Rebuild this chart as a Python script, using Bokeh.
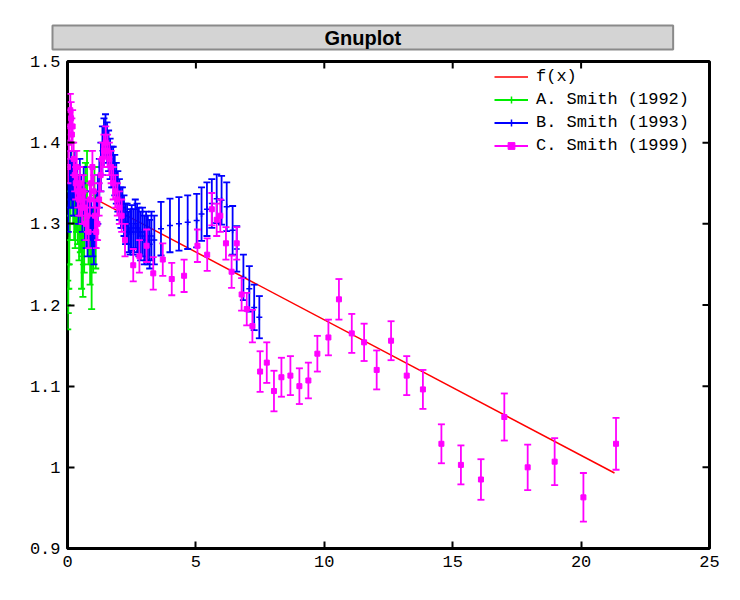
import math
from bokeh.plotting import figure
from bokeh.models import (FixedTicker, LinearAxis, Legend, LegendItem, Range1d)
from bokeh.embed import file_html
from bokeh.resources import INLINE

# ---------------- data ----------------
fx_x = [1.0, 21.3]
fx_y = [1.332, 0.993]

a_x = [0.01, 0.03, 0.05, 0.07, 0.09, 0.12, 0.15, 0.18, 0.22, 0.26, 0.30, 0.35, 0.40,
       0.45, 0.50, 0.55, 0.60, 0.65, 0.70, 0.76, 0.82, 0.88, 0.94, 1.00, 1.05, 1.10]
a_y = [1.20, 1.22, 1.25, 1.28, 1.31, 1.34, 1.36, 1.35, 1.33, 1.31, 1.30, 1.32, 1.31,
       1.29, 1.30, 1.26, 1.25, 1.28, 1.33, 1.35, 1.29, 1.27, 1.25, 1.28, 1.33, 1.29]
a_err = [0.03, 0.03, 0.03, 0.03, 0.03, 0.03, 0.03, 0.03, 0.03, 0.03, 0.03, 0.03, 0.035,
         0.035, 0.035, 0.04, 0.04, 0.04, 0.045, 0.04, 0.04, 0.045, 0.055, 0.04, 0.04, 0.045]

b_x = [0.03, 0.08, 0.13, 0.18, 0.23, 0.28, 0.33, 0.38, 0.43, 0.48, 0.53, 0.58, 0.63,
       0.68, 0.73, 0.78, 0.83, 0.88, 0.93, 0.98, 1.03, 1.08, 1.13, 1.18, 1.24, 1.30,
       1.36, 1.42, 1.48, 1.54, 1.60, 1.66, 1.72, 1.78, 1.84, 1.90, 1.96, 2.02, 2.08,
       2.14, 2.20, 2.26, 2.32, 2.38, 2.44, 2.50, 2.57, 2.64, 2.71, 2.78, 2.85, 2.92,
       2.99, 3.06, 3.13, 3.20, 3.27, 3.38, 3.64, 3.99, 4.34, 4.68, 5.03, 5.22, 5.43,
       5.62, 5.81, 6.00, 6.20, 6.43, 6.59, 6.85, 7.08, 7.27, 7.47]
b_y = [1.32, 1.35, 1.36, 1.35, 1.34, 1.36, 1.35, 1.34, 1.33, 1.35, 1.33, 1.32, 1.34,
       1.31, 1.30, 1.29, 1.30, 1.31, 1.30, 1.29, 1.28, 1.30, 1.31, 1.33, 1.35, 1.37,
       1.39, 1.40, 1.41, 1.40, 1.39, 1.38, 1.37, 1.37, 1.36, 1.35, 1.34, 1.33, 1.32,
       1.32, 1.31, 1.30, 1.30, 1.29, 1.29, 1.295, 1.29, 1.30, 1.295, 1.29, 1.285, 1.29,
       1.28, 1.285, 1.28, 1.275, 1.285, 1.28, 1.294, 1.298, 1.300, 1.302, 1.304, 1.312, 1.318,
       1.325, 1.331, 1.329, 1.321, 1.292, 1.269, 1.234, 1.220, 1.197, 1.185]
b_err = [0.03] * 28 + [0.025] * 16 + [0.028] * 3 + [0.03] * 11 + [0.033] * 7 + \
        [0.03] * 5 + [0.028] * 4 + [0.026]

c_x = [0.02, 0.05, 0.08, 0.11, 0.14, 0.17, 0.20, 0.24, 0.28, 0.32, 0.36, 0.40, 0.44,
       0.48, 0.52, 0.57, 0.62, 0.67, 0.72, 0.77, 0.82, 0.87, 0.92, 0.97, 1.02, 1.07,
       1.12, 1.17, 1.23, 1.29, 1.35, 1.42, 1.49, 1.56, 1.63, 1.70, 1.78, 1.86, 1.94,
       2.02, 2.11, 2.24, 2.56, 2.80, 3.08, 3.34, 3.71, 4.06, 4.54, 5.06, 5.44, 5.62,
       5.81, 5.95, 6.17, 6.39, 6.59, 6.78, 6.98, 7.20, 7.50, 7.76, 8.04, 8.33, 8.68,
       9.03, 9.38, 9.73, 10.16, 10.57, 11.07, 11.55, 12.04, 12.60, 13.21, 13.84, 14.56,
       15.32, 16.10, 17.01, 17.92, 18.97, 20.09, 21.36]
c_y = [1.37, 1.40, 1.42, 1.44, 1.43, 1.41, 1.42, 1.38, 1.36, 1.35, 1.37, 1.34, 1.33,
       1.35, 1.33, 1.32, 1.34, 1.32, 1.30, 1.31, 1.29, 1.33, 1.35, 1.37, 1.34, 1.31,
       1.29, 1.30, 1.33, 1.36, 1.38, 1.39, 1.40, 1.39, 1.38, 1.37, 1.35, 1.34, 1.33,
       1.32, 1.31, 1.28, 1.249, 1.260, 1.273, 1.239, 1.256, 1.232, 1.236, 1.273, 1.262, 1.318,
       1.305, 1.310, 1.276, 1.241, 1.276, 1.213, 1.195, 1.174, 1.118, 1.129, 1.094, 1.111, 1.113,
       1.100, 1.107, 1.140, 1.160, 1.207, 1.165, 1.154, 1.120, 1.156, 1.113, 1.096, 1.029,
       1.003, 0.985, 1.062, 1.000, 1.007, 0.963, 1.029]
c_err = [0.02] * 60 + [0.025, 0.025, 0.025, 0.024, 0.024, 0.022, 0.022,
                       0.022, 0.022, 0.025, 0.024, 0.023, 0.024, 0.024, 0.024, 0.024,
                       0.024, 0.024, 0.025, 0.029, 0.028, 0.029, 0.030, 0.032]

x_ticks = [0, 5, 10, 15, 20, 25]
x_tick_labels = ["0", "5", "10", "15", "20", "25"]
y_ticks = [0.9, 1.0, 1.1, 1.2, 1.3, 1.4, 1.5]
y_tick_labels = ["0.9", "1", "1.1", "1.2", "1.3", "1.4", "1.5"]

series_labels = ["f(x)", "A. Smith (1992)", "B. Smith (1993)", "C. Smith (1999)"]
colors = ["#ff0000", "#00ee00", "#0000ff", "#ff00ff"]

MONO = "Liberation Mono"
X0, X1 = 0, 25
Y0, Y1 = 0.9, 1.5

# ---------------- figure ----------------
p = figure(width=740, height=600, output_backend="svg", toolbar_location=None,
           x_range=Range1d(X0, X1), y_range=Range1d(Y0, Y1),
           min_border_left=67, min_border_right=31, min_border_top=61,
           min_border_bottom=52, background_fill_color="white",
           border_fill_color="white")
p.xaxis.visible = False
p.yaxis.visible = False
p.grid.visible = False
p.outline_line_color = "black"
p.outline_line_width = 3

p.title.text = "Gnuplot"
p.title.align = "left"
p.title.offset = -15
p.title.text_font = "Liberation Sans"
p.title.text_font_style = "bold"
p.title.text_font_size = "20px"
p.title.text_color = "black"
p.title.background_fill_color = "#d4d4d4"
p.title.border_line_color = "#8a8a8a"
p.title.border_line_width = 2
try:
    p.title.padding = (272, 1)
except Exception:
    pass
p.title.standoff = 24


def make_axis(ticks, labels):
    ax = LinearAxis(ticker=FixedTicker(ticks=ticks),
                    major_label_overrides={t: l for t, l in zip(ticks, labels)})
    ax.axis_line_color = None
    ax.major_tick_in = 7
    ax.major_tick_out = 0
    ax.major_tick_line_width = 2
    ax.major_tick_line_color = "black"
    ax.minor_tick_line_color = None
    ax.major_label_text_font = MONO
    ax.major_label_text_font_size = "17px"
    ax.major_label_text_color = "black"
    ax.major_label_standoff = 7
    return ax


p.add_layout(make_axis(x_ticks, x_tick_labels), "below")
p.add_layout(make_axis(y_ticks, y_tick_labels), "left")

# mirrored inward ticks on top and right (half of each dash is clipped by the frame)
p.scatter([X1] * len(y_ticks), y_ticks, marker="dash", size=14, line_color="black",
          line_width=2)
p.scatter(x_ticks, [Y1] * len(x_ticks), marker="dash", size=14, angle=math.pi / 2,
          line_color="black", line_width=2)

# f(x)
r_f = p.line(fx_x, fx_y, line_color=colors[0], line_width=1.5)


def errorbars(xs, ys, es, color, marker, msize):
    lo = [y - e for y, e in zip(ys, es)]
    hi = [y + e for y, e in zip(ys, es)]
    seg = p.segment(x0=xs, y0=lo, x1=xs, y1=hi, line_color=color, line_width=1.8)
    p.scatter(xs, lo, marker="dash", size=7, line_color=color, line_width=1.8)
    p.scatter(xs, hi, marker="dash", size=7, line_color=color, line_width=1.8)
    if marker == "square":
        pts = p.scatter(xs, ys, marker="square", size=msize, line_color=color,
                        fill_color=color)
    else:
        pts = p.scatter(xs, ys, marker="cross", size=msize, line_color=color,
                        line_width=1.5)
    return seg, pts


segA, ptsA = errorbars(a_x, a_y, a_err, colors[1], "cross", 6)
segB, ptsB = errorbars(b_x, b_y, b_err, colors[2], "cross", 6)
segC, ptsC = errorbars(c_x, c_y, c_err, colors[3], "square", 5)

legend = Legend(items=[
    LegendItem(label=series_labels[0], renderers=[r_f]),
    LegendItem(label=series_labels[1], renderers=[segA, ptsA]),
    LegendItem(label=series_labels[2], renderers=[segB, ptsB]),
    LegendItem(label=series_labels[3], renderers=[segC, ptsC]),
], location=(427, 393))
legend.border_line_color = None
legend.background_fill_alpha = 0
legend.label_text_font = MONO
legend.label_text_font_size = "17px"
legend.label_text_color = "black"
legend.label_height = 17
legend.glyph_height = 17
legend.glyph_width = 34
legend.spacing = 4
legend.margin = 0
legend.padding = 4
legend.label_standoff = 8
p.add_layout(legend)

open("out.html", "w").write(file_html(p, INLINE))
